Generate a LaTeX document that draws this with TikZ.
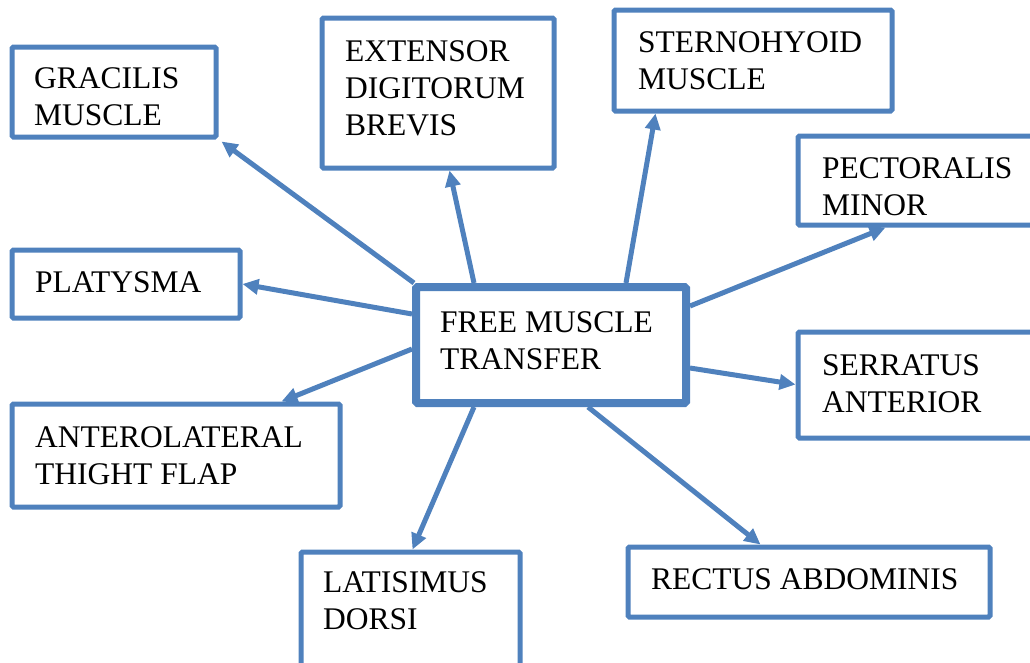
\documentclass[tikz,border=0pt]{standalone}
\usepackage{fontspec}
\setmainfont{Liberation Serif}
\usetikzlibrary{arrows.meta}
\definecolor{boxblue}{HTML}{4F81BD}
\tikzset{
  box/.style={draw=boxblue, line width=5pt, rounded corners=1.5pt, inner sep=0pt, fill=white},
  centerbox/.style={box, line width=8pt},
  lbl/.style={anchor=north west, inner sep=0pt, align=left, font=\fontsize{31.5}{37}\selectfont, text=black},
  conn/.style={draw=boxblue, line width=5pt, -{Triangle[length=16pt,width=15pt]}}
}
\begin{document}
\begin{tikzpicture}[x=1pt,y=-1pt]
\useasboundingbox (0,0) rectangle (1030,662);
\clip (0,0) rectangle (1030,662);
% boxes
\node[box, minimum width=204pt, minimum height=90pt] (g) at (114,92) {};
\node[box, minimum width=232pt, minimum height=150pt] (e) at (438,93) {};
\node[box, minimum width=278pt, minimum height=101pt] (s) at (753,60.5) {};
\node[box, minimum width=247pt, minimum height=89pt] (p) at (921.5,180.5) {};
\node[box, minimum width=228pt, minimum height=68pt] (pl) at (126,284) {};
\node[box, minimum width=247pt, minimum height=106pt] (se) at (921.5,385) {};
\node[box, minimum width=328pt, minimum height=103pt] (a) at (176,455.5) {};
\node[box, minimum width=219pt, minimum height=123pt] (l) at (410.5,613.5) {};
\node[box, minimum width=362pt, minimum height=70pt] (r) at (809,582) {};
\node[centerbox, minimum width=270pt, minimum height=116pt] (c) at (551,345) {};
% labels
\node[lbl] (gt) at (34,67) {GRACILIS\\MUSCLE};
\node[lbl] (et) at (345,40) {EXTENSOR\\DIGITORUM\\BREVIS};
\node[lbl] (st) at (638,31) {STERNOHYOID\\MUSCLE};
\node[lbl] (pt) at (822,157) {PECTORALIS\\MINOR};
\node[lbl] (plt) at (35,271) {PLATYSMA};
\node[lbl] (ct) at (440,311) {FREE MUSCLE\\TRANSFER};
\node[lbl] (set) at (822,354) {SERRATUS\\ANTERIOR};
\node[lbl] (at) at (35,426) {ANTEROLATERAL\\THIGHT FLAP};
\node[lbl] (lt) at (323,571) {LATISIMUS\\DORSI};
\node[lbl] (rt) at (651,568) {RECTUS ABDOMINIS};
% connectors
\draw[conn] ([xshift=2pt]c.north west) -- ([xshift=3pt,yshift=-2pt]g.south east);
\draw[conn] ([xshift=62pt]c.north west) -- ([xshift=130pt]e.south west);
\draw[conn] ([xshift=214pt]c.north west) -- ([xshift=44pt]s.south west);
\draw[conn] ([yshift=-23pt]c.north east) -- ([xshift=90pt]p.south west);
\draw[conn] ([yshift=-31pt]c.north west) -- (pl.east);
\draw[conn] ([yshift=-66pt]c.north west) -- ([xshift=272pt]a.north west);
\draw[conn] ([yshift=-85pt]c.north east) -- ([yshift=-55pt]se.north west);
\draw[conn] ([xshift=62pt]c.south west) -- ([xshift=114pt]l.north west);
\draw[conn] ([xshift=176pt]c.south west) -- ([xshift=135pt]r.north west);
\end{tikzpicture}
\end{document}
